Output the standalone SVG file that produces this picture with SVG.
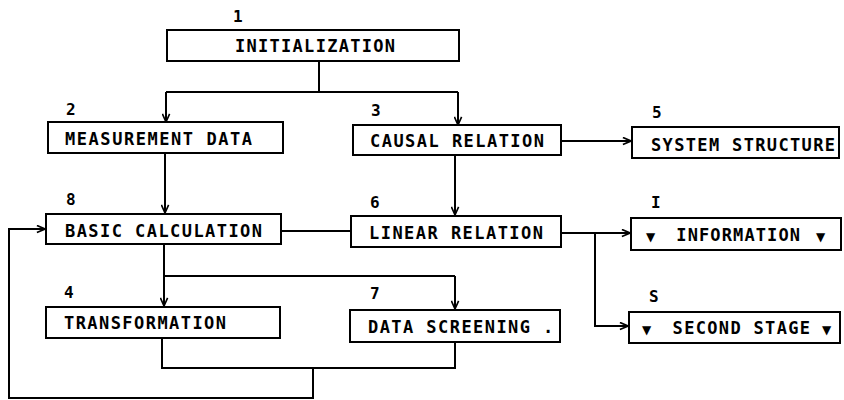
<svg xmlns="http://www.w3.org/2000/svg" width="844" height="400" viewBox="0 0 844 400">
<style>
.box{fill:#fff;stroke:#000;stroke-width:2}
.t{font-family:"DejaVu Sans Mono","Liberation Mono",monospace;font-size:17px;font-weight:bold;fill:#000}
.n{font-family:"DejaVu Sans Mono","Liberation Mono",monospace;font-size:16px;font-weight:bold;fill:#000}
.tri{font-family:"DejaVu Sans",sans-serif;font-size:12px;font-weight:bold}
.c{fill:none;stroke:#000;stroke-width:2}
</style>
<defs>
<marker id="arr" viewBox="0 0 10 10" refX="10" refY="5" markerWidth="9" markerHeight="9" markerUnits="userSpaceOnUse" orient="auto">
<path d="M1,1 L10,5 L1,9" fill="none" stroke="#000" stroke-width="1.8"/>
</marker>
</defs>
<rect width="844" height="400" fill="#fff"/>
<g id="connectors">
<path class="c" d="M319,62 V92"/>
<path class="c" d="M166,92 H458"/>
<path class="c" d="M166,92 V122" marker-end="url(#arr)"/>
<path class="c" d="M458,92 V125" marker-end="url(#arr)"/>
<path class="c" d="M561,141 H631" marker-end="url(#arr)"/>
<path class="c" d="M165,153 V213" marker-end="url(#arr)"/>
<path class="c" d="M455,155 V215" marker-end="url(#arr)"/>
<path class="c" d="M281,231 H351"/>
<path class="c" d="M561,233 H630" marker-end="url(#arr)"/>
<path class="c" d="M595,233 V326 H628" marker-end="url(#arr)"/>
<path class="c" d="M164,244 V276 H455"/>
<path class="c" d="M164,276 V306" marker-end="url(#arr)"/>
<path class="c" d="M455,276 V309" marker-end="url(#arr)"/>
<path class="c" d="M162,338 V368 H455 V342"/>
<path class="c" d="M313,368 V398 H9 V229 H45" marker-end="url(#arr)"/>
</g>
<g id="n1">
<rect class="box" x="167" y="30" width="292" height="31"/>
<text class="n" x="233" y="22">1</text>
<text class="t" x="235" y="52" textLength="160" lengthAdjust="spacing">INITIALIZATION</text>
</g>
<g id="n2">
<rect class="box" x="48" y="122" width="235" height="31"/>
<text class="n" x="66" y="115">2</text>
<text class="t" x="65" y="145" textLength="187" lengthAdjust="spacing">MEASUREMENT DATA</text>
</g>
<g id="n3">
<rect class="box" x="353" y="125" width="208" height="30"/>
<text class="n" x="371" y="116">3</text>
<text class="t" x="370" y="147" textLength="174" lengthAdjust="spacing">CAUSAL RELATION</text>
</g>
<g id="n5">
<rect class="box" x="632" y="127" width="207" height="31"/>
<text class="n" x="652" y="118">5</text>
<text class="t" x="651" y="151" textLength="184" lengthAdjust="spacing">SYSTEM STRUCTURE</text>
</g>
<g id="n8">
<rect class="box" x="46" y="214" width="235" height="30"/>
<text class="n" x="66" y="205">8</text>
<text class="t" x="65" y="237" textLength="197" lengthAdjust="spacing">BASIC CALCULATION</text>
</g>
<g id="n6">
<rect class="box" x="351" y="216" width="210" height="31"/>
<text class="n" x="370" y="208">6</text>
<text class="t" x="369" y="239" textLength="174" lengthAdjust="spacing">LINEAR RELATION</text>
</g>
<g id="nI">
<rect class="box" x="631" y="218" width="210" height="32"/>
<text class="n" x="651" y="208">I</text>
<text class="t" y="241"><tspan class="tri" x="646">▼</tspan><tspan x="665" textLength="135" lengthAdjust="spacing"> INFORMATION</tspan><tspan class="tri" x="816">▼</tspan></text>
</g>
<g id="nS">
<rect class="box" x="629" y="312" width="211" height="31"/>
<text class="n" x="649" y="302">S</text>
<text class="t" y="334"><tspan class="tri" x="642">▼</tspan><tspan x="661" textLength="149" lengthAdjust="spacing"> SECOND STAGE</tspan><tspan class="tri" x="822">▼</tspan></text>
</g>
<g id="n4">
<rect class="box" x="46" y="307" width="234" height="31"/>
<text class="n" x="64" y="298">4</text>
<text class="t" x="64" y="329" textLength="162" lengthAdjust="spacing">TRANSFORMATION</text>
</g>
<g id="n7">
<rect class="box" x="350" y="310" width="210" height="32"/>
<text class="n" x="370" y="299">7</text>
<text class="t" x="368" y="333" textLength="162" lengthAdjust="spacing">DATA SCREENING</text>
<text class="t" x="543" y="333">.</text>
</g>
</svg>
